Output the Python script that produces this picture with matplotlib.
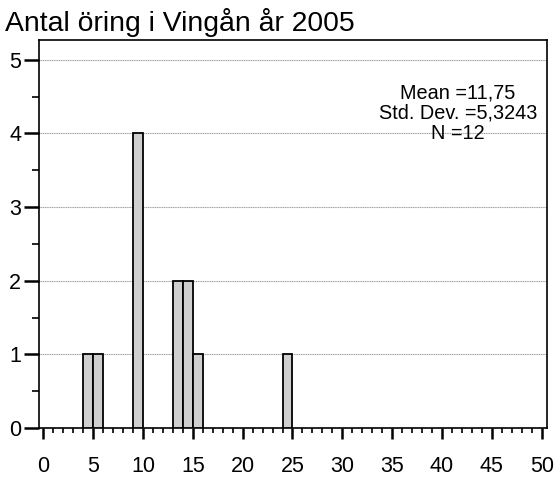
import matplotlib.pyplot as plt
from matplotlib.ticker import MultipleLocator

plt.rcParams['font.family'] = ['Liberation Sans', 'DejaVu Sans']

# data: bin left edges (width 1) and counts
bin_left = [4, 5, 9, 13, 14, 15, 24]
counts = [1, 1, 4, 2, 2, 1, 1]
title = "Antal öring i Vingån år 2005"
stats = "Mean =11,75\nStd. Dev. =5,3243\nN =12"

fig = plt.figure(figsize=(5.58, 4.8), dpi=100)
ax = fig.add_axes([0.0699, 0.1083, 0.9098, 0.8084])

ax.bar(bin_left, counts, width=1, align='edge', color='#cfcfcf',
       edgecolor='black', linewidth=1.3, zorder=3)

ax.set_xlim(-0.43, 50.5)
ax.set_ylim(0, 5.27)

ax.xaxis.set_major_locator(MultipleLocator(5))
ax.xaxis.set_minor_locator(MultipleLocator(1))
ax.yaxis.set_major_locator(MultipleLocator(1))
ax.yaxis.set_minor_locator(MultipleLocator(0.5))

ax.tick_params(axis='x', which='major', direction='out', length=8, width=1.8,
               labelsize=15.5, pad=12)
ax.tick_params(axis='y', which='major', direction='out', length=10.8, width=1.8,
               labelsize=15.5, pad=2)
ax.tick_params(axis='x', which='minor', direction='out', length=3.6, width=1.2)
ax.tick_params(axis='y', which='minor', direction='out', length=5, width=1.2)

for y in range(1, 6):
    ax.axhline(y, color='#9a9a9a', linestyle=(0, (1, 0.6)), linewidth=0.8, zorder=1)

for s in ax.spines.values():
    s.set_linewidth(1.2)

ax.text(0.825, 0.812, stats, transform=ax.transAxes, ha='center', va='center',
        fontsize=14.3, linespacing=1.08, zorder=4)

fig.text(0.009, 0.936, title, ha='left', va='baseline', fontsize=20.4)

fig.savefig('out.png', dpi=100)
